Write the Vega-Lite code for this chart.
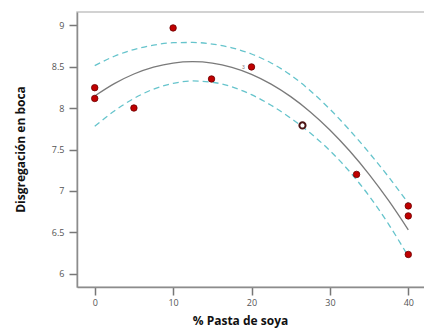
{
  "$schema": "https://vega.github.io/schema/vega-lite/v6.json",
  "width": 348,
  "height": 275,
  "autosize": {"type": "none"},
  "padding": {"left": 77, "top": 12, "right": 0, "bottom": 41},
  "background": "white",
  "config": {
    "view": {"stroke": "#c4c4c4", "strokeWidth": 1.5},
    "axis": {
      "grid": false,
      "domainColor": "#8c8c8c",
      "domainWidth": 1.5,
      "tickColor": "#777777",
      "tickWidth": 1.5,
      "tickSize": 8,
      "labelColor": "#555555",
      "labelFont": "Open Sans",
      "labelFontSize": 9,
      "titleFont": "Open Sans",
      "titleFontWeight": "bold",
      "titleFontSize": 12,
      "titleColor": "#111111"
    }
  },
  "datasets": {
    "pts": [
      {"x": 0, "y": 8.245, "type": "filled", "label": ""},
      {"x": 0, "y": 8.115, "type": "filled", "label": ""},
      {"x": 5, "y": 8.0, "type": "filled", "label": ""},
      {"x": 10, "y": 8.965, "type": "filled", "label": ""},
      {"x": 14.9, "y": 8.35, "type": "filled", "label": ""},
      {"x": 20, "y": 8.495, "type": "filled", "label": "3"},
      {"x": 33.4, "y": 7.2, "type": "filled", "label": ""},
      {"x": 40, "y": 6.82, "type": "filled", "label": ""},
      {"x": 40, "y": 6.70, "type": "filled", "label": ""},
      {"x": 40, "y": 6.235, "type": "filled", "label": ""}
    ],
    "hollow": [
      {"x": 26.5, "y": 7.79}
    ],
    "curve": [
      {"x": 0, "fit": 8.145, "hi": 8.510, "lo": 7.780},
      {"x": 2.5, "fit": 8.294, "hi": 8.624, "lo": 7.964},
      {"x": 5, "fit": 8.410, "hi": 8.705, "lo": 8.115},
      {"x": 7.5, "fit": 8.493, "hi": 8.758, "lo": 8.228},
      {"x": 10, "fit": 8.542, "hi": 8.787, "lo": 8.297},
      {"x": 12.5, "fit": 8.558, "hi": 8.790, "lo": 8.326},
      {"x": 15, "fit": 8.541, "hi": 8.771, "lo": 8.311},
      {"x": 17.5, "fit": 8.490, "hi": 8.725, "lo": 8.255},
      {"x": 20, "fit": 8.406, "hi": 8.651, "lo": 8.161},
      {"x": 22.5, "fit": 8.288, "hi": 8.543, "lo": 8.033},
      {"x": 25, "fit": 8.137, "hi": 8.397, "lo": 7.877},
      {"x": 27.5, "fit": 7.953, "hi": 8.208, "lo": 7.698},
      {"x": 30, "fit": 7.736, "hi": 7.986, "lo": 7.486},
      {"x": 32.5, "fit": 7.485, "hi": 7.735, "lo": 7.235},
      {"x": 35, "fit": 7.201, "hi": 7.461, "lo": 6.941},
      {"x": 37.5, "fit": 6.883, "hi": 7.168, "lo": 6.598},
      {"x": 40, "fit": 6.532, "hi": 6.852, "lo": 6.212}
    ]
  },
  "layer": [
    {
      "data": {"name": "curve"},
      "mark": {"type": "line", "interpolate": "monotone", "stroke": "#66c4cc", "strokeWidth": 1.3, "strokeDash": [6, 4]},
      "encoding": {
        "x": {"field": "x", "type": "quantitative", "scale": {"domain": [-2.26, 42.13], "nice": false, "zero": false},
          "axis": {"values": [0, 10, 20, 30, 40], "title": "% Pasta de soya", "titleX": 163, "titleY": 33, "titleBaseline": "middle", "labelPadding": 3}},
        "y": {"field": "hi", "type": "quantitative", "scale": {"domain": [5.843, 9.157], "nice": false, "zero": false},
          "axis": {"values": [6, 6.5, 7, 7.5, 8, 8.5, 9], "format": "~g", "title": "Disgregación en boca", "titleX": -57, "titleY": 137, "titleAngle": 270, "titleAlign": "center", "titleBaseline": "middle", "labelPadding": 5}}
      }
    },
    {
      "data": {"name": "curve"},
      "mark": {"type": "line", "interpolate": "monotone", "stroke": "#66c4cc", "strokeWidth": 1.3, "strokeDash": [6, 4]},
      "encoding": {
        "x": {"field": "x", "type": "quantitative"},
        "y": {"field": "lo", "type": "quantitative"}
      }
    },
    {
      "data": {"name": "curve"},
      "mark": {"type": "line", "interpolate": "monotone", "stroke": "#7a7a7a", "strokeWidth": 1.3},
      "encoding": {
        "x": {"field": "x", "type": "quantitative"},
        "y": {"field": "fit", "type": "quantitative"}
      }
    },
    {
      "data": {"name": "pts"},
      "mark": {"type": "point", "filled": true, "shape": "circle", "size": 42, "fill": "#c00000", "stroke": "#6a0000", "strokeWidth": 0.8, "opacity": 1},
      "encoding": {
        "x": {"field": "x", "type": "quantitative"},
        "y": {"field": "y", "type": "quantitative"}
      }
    },
    {
      "data": {"name": "pts"},
      "mark": {"type": "text", "fontSize": 5, "color": "#777777", "dx": -8, "dy": 0, "align": "center", "baseline": "middle"},
      "encoding": {
        "x": {"field": "x", "type": "quantitative"},
        "y": {"field": "y", "type": "quantitative"},
        "text": {"field": "label"}
      }
    },
    {
      "data": {"name": "hollow"},
      "mark": {"type": "point", "shape": "circle", "size": 38, "fill": "white", "filled": false, "stroke": "#4a1414", "strokeWidth": 2, "opacity": 1},
      "encoding": {
        "x": {"field": "x", "type": "quantitative"},
        "y": {"field": "y", "type": "quantitative"}
      }
    }
  ]
}
